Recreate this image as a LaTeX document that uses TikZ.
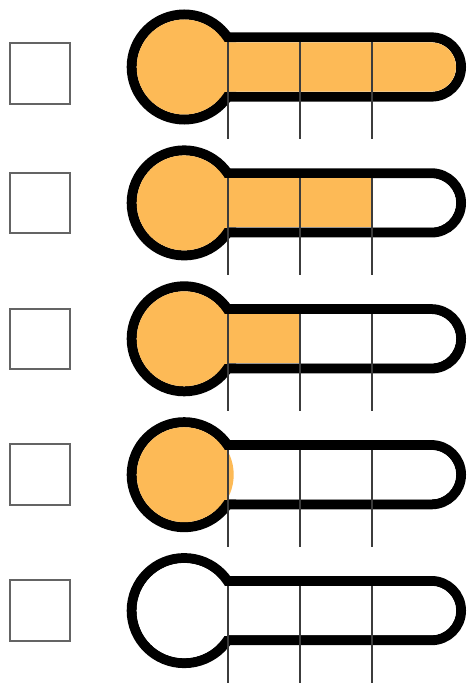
\documentclass[tikz,border=0pt]{standalone}
\definecolor{fillc}{RGB}{253,186,86}
\definecolor{tickc}{RGB}{60,60,60}
\definecolor{boxc}{RGB}{100,100,100}
\tikzset{
  outline/.style={draw=black,line width=10pt},
  tickline/.style={draw=tickc,line width=1.6pt},
  checkbox/.style={draw=boxc,line width=2pt,fill=white},
}
\begin{document}
\begin{tikzpicture}[x=1pt,y=-1pt]
\useasboundingbox (0,0) rectangle (469,684);
\fill[white] (0,0) rectangle (469,684);
\foreach \yc/\lvl/\sq/\bc in {67/3/73.5/fillc, 202.9/2/202.9/fillc, 338.8/1/338.8/fillc, 474.7/0/474.7/fillc, 610.6/0/610.6/white}{
  % checkbox
  \draw[checkbox] (10.3,\sq-30.3) rectangle (70,\sq+30.3);
  % outlines
  \draw[outline] (184.2,\yc-29.6) -- (431.4,\yc-29.6) arc[start angle=-90,end angle=90,radius=29.6] -- (184.2,\yc+29.6);
  \draw[outline] (184.2,\yc) circle[radius=52.5];
  % tube interior
  \fill[white] (228,\yc-24.6) -- (431.4,\yc-24.6) arc[start angle=-90,end angle=90,radius=24.6] -- (228,\yc+24.6) -- cycle;
  % bulb interior
  \fill[\bc] (184.2,\yc) circle[radius=47.5];
  \begin{scope}
    \clip (184.2,\yc-24.6) rectangle (245,\yc+24.6);
    \fill[\bc] (184.2,\yc) circle[radius=49.5];
  \end{scope}
  % level
  \ifnum\lvl=3
    \fill[fillc] (228,\yc-24.6) -- (431.4,\yc-24.6) arc[start angle=-90,end angle=90,radius=24.6] -- (228,\yc+24.6) -- cycle;
  \fi
  \ifnum\lvl=2
    \fill[fillc] (228,\yc-24.6) rectangle (372,\yc+24.6);
  \fi
  \ifnum\lvl=1
    \fill[fillc] (228,\yc-24.6) rectangle (300,\yc+24.6);
  \fi
  % ticks
  \foreach \tx in {228,300,372}{
    \draw[tickline] (\tx,\yc-24.6) -- (\tx,\yc+72.5);
  }
}
\end{tikzpicture}
\end{document}
